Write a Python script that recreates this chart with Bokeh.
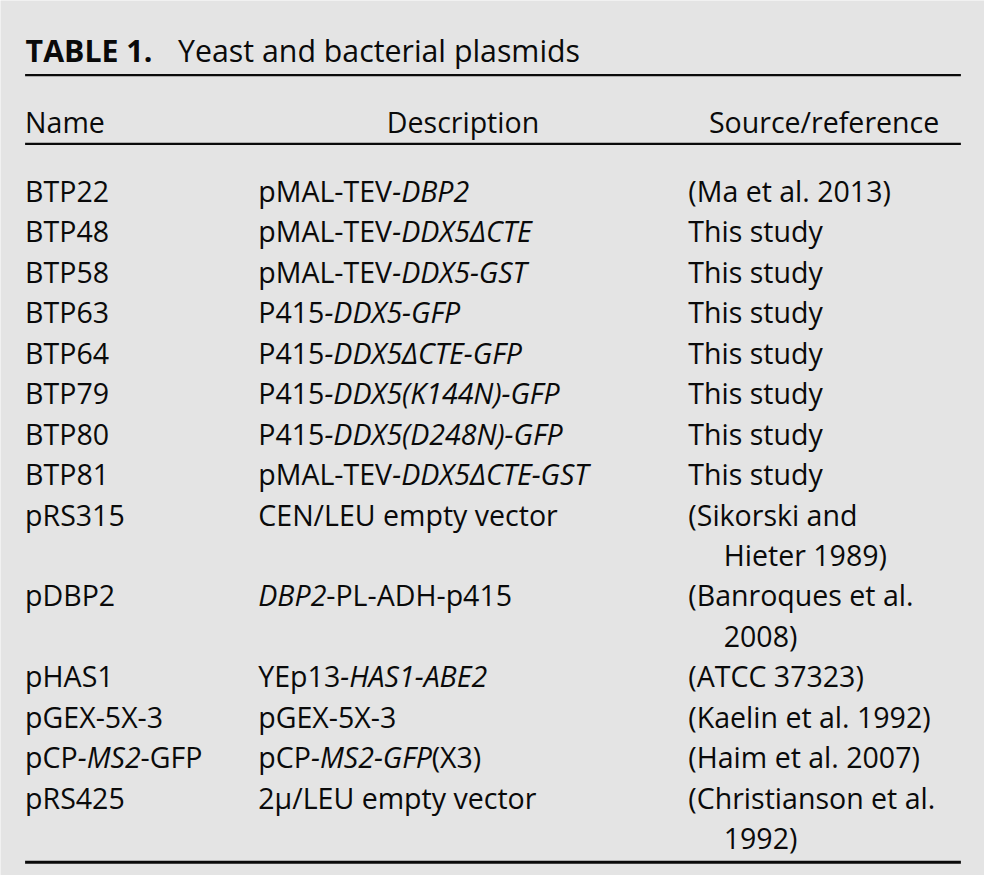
import glob
import os
import struct

from bokeh.embed import file_html
from bokeh.models import ColumnDataSource, Range1d
from bokeh.plotting import figure
from bokeh.resources import INLINE
from bokeh.core.properties import value

# ---------------- data ----------------
title_bold = "TABLE 1."
title_text = "Yeast and bacterial plasmids"
headers = ["Name", "Description", "Source/reference"]

# '*' toggles italic
names = ["BTP22", "BTP48", "BTP58", "BTP63", "BTP64", "BTP79", "BTP80", "BTP81",
         "pRS315", "pDBP2", "pHAS1", "pGEX-5X-3", "pCP*-MS2*-GFP", "pRS425"]
descriptions = ["pMAL-TEV*-DBP2*", "pMAL-TEV*-DDX5ΔCTE*", "pMAL-TEV*-DDX5-GST*",
                "P415*-DDX5-GFP*", "P415*-DDX5ΔCTE-GFP*", "P415*-DDX5(K144N)-GFP*",
                "P415*-DDX5(D248N)-GFP*", "pMAL-TEV*-DDX5ΔCTE-GST*",
                "CEN/LEU empty vector", "*DBP2*-PL-ADH-p415", "YEp13*-HAS1-ABE2*",
                "pGEX-5X-3", "pCP*-MS2-GFP*(X3)", "2μ/LEU empty vector"]
sources = ["(Ma et al. 2013)", "This study", "This study", "This study", "This study",
           "This study", "This study", "This study",
           "(Sikorski and\nHieter 1989)", "(Banroques et al.\n2008)", "(ATCC 37323)",
           "(Kaelin et al. 1992)", "(Haim et al. 2007)", "(Christianson et al.\n1992)"]

# ---------------- layout / style (reference-pixel units) ----------------
FONT = "Open Sans"
FONT_KEY = "opensans"
FS = 29.0
FS_TITLE = 30.8
BG = "#e4e4e4"
INK = "#0a0a0a"
REF_W, REF_H = 1000, 891
W, H = 984, 875
SX = W / REF_W
X_TITLE, X_NAME, X_DESC, X_SRC, X_INDENT = 25.5, 25, 262, 699, 735
C_DESC, C_SRC = 470, 837
RULE_X0, RULE_X1 = 25, 976
Y_TITLE, Y_HEAD, Y_ROW0, PITCH = 51, 123, 193.3, 41.2
Y_RULE1, Y_RULE2, RULE_BELOW_LAST = 76, 146, 25


# ---------------- font metrics (for mixed italic runs) ----------------
def _font_files():
    out = []
    for d in ["/usr/share/fonts", "/usr/local/share/fonts",
              os.path.expanduser("~/.fonts"), os.path.expanduser("~/.local/share/fonts")]:
        out += glob.glob(os.path.join(d, "**", "*.ttf"), recursive=True)
        out += glob.glob(os.path.join(d, "**", "*.otf"), recursive=True)
    return out


def _load_metrics(path, chars):
    with open(path, "rb") as f:
        data = f.read()
    off = struct.unpack(">I", data[12:16])[0] if data[:4] == b"ttcf" else 0
    nt = struct.unpack(">H", data[off + 4:off + 6])[0]
    tables = {}
    for i in range(nt):
        r = off + 12 + 16 * i
        tag = data[r:r + 4].decode("latin1")
        _, to, tl = struct.unpack(">III", data[r + 4:r + 16])
        tables[tag] = to
    upem = struct.unpack(">H", data[tables["head"] + 18:tables["head"] + 20])[0]
    nhm = struct.unpack(">H", data[tables["hhea"] + 34:tables["hhea"] + 36])[0]
    ho = tables["hmtx"]
    adv = [struct.unpack(">H", data[ho + 4 * i:ho + 4 * i + 2])[0] for i in range(nhm)]
    co = tables["cmap"]
    n = struct.unpack(">H", data[co + 2:co + 4])[0]
    best = None
    for i in range(n):
        pid, eid, so = struct.unpack(">HHI", data[co + 4 + 8 * i:co + 12 + 8 * i])
        fmt = struct.unpack(">H", data[co + so:co + so + 2])[0]
        if (pid == 3 and eid in (1, 10)) or pid == 0:
            if fmt == 12:
                best = (co + so, 12)
                break
            if fmt == 4 and best is None:
                best = (co + so, 4)
    cmap = {}
    so, fmt = best
    codes = set(ord(c) for c in chars)
    if fmt == 4:
        segx2 = struct.unpack(">H", data[so + 6:so + 8])[0]
        seg = segx2 // 2
        ends = struct.unpack(">%dH" % seg, data[so + 14:so + 14 + segx2])
        starts = struct.unpack(">%dH" % seg, data[so + 16 + segx2:so + 16 + 2 * segx2])
        deltas = struct.unpack(">%dh" % seg, data[so + 16 + 2 * segx2:so + 16 + 3 * segx2])
        ro = so + 16 + 3 * segx2
        ros = struct.unpack(">%dH" % seg, data[ro:ro + segx2])
        for c in codes:
            for i in range(seg):
                if starts[i] <= c <= ends[i]:
                    if ros[i] == 0:
                        g = (c + deltas[i]) & 0xFFFF
                    else:
                        a = ro + 2 * i + ros[i] + 2 * (c - starts[i])
                        g = struct.unpack(">H", data[a:a + 2])[0]
                        if g:
                            g = (g + deltas[i]) & 0xFFFF
                    cmap[c] = g
                    break
    else:
        ng = struct.unpack(">I", data[so + 12:so + 16])[0]
        for k in range(ng):
            s, e, g0 = struct.unpack(">III", data[so + 16 + 12 * k:so + 28 + 12 * k])
            for c in codes:
                if s <= c <= e:
                    cmap[c] = g0 + c - s
    return upem, cmap, adv


def _pick(files, style):
    cands = []
    for f in files:
        b = os.path.basename(f).lower().replace(" ", "").replace("_", "")
        if not b.startswith(FONT_KEY):
            continue
        rest = b[len(FONT_KEY):]
        if rest.startswith("condensed") or rest.startswith("semicondensed"):
            continue
        ital = "italic" in rest
        var = "[" in rest
        if style == "normal":
            ok = (not ital) and ("-regular" in rest or (var and "wght" in rest))
        elif style == "italic":
            ok = ital and (rest.startswith("-italic") or (var and "wght" in rest))
        else:
            ok = (not ital) and rest.startswith("-bold")
        if ok:
            cands.append(f)
    cands.sort(key=lambda f: ("[" in f, len(f)))
    return cands[0] if cands else None


ALL_CHARS = "".join(names + descriptions + sources + headers + [title_bold, title_text])
_files = _font_files()
METRICS = {}
for style in ("normal", "italic", "bold"):
    path = _pick(_files, style)
    if path:
        try:
            METRICS[style] = _load_metrics(path, ALL_CHARS)
        except Exception:
            pass


def text_width(s, style, size=FS):
    """Advance width of s, in reference-pixel units."""
    m = METRICS.get(style)
    if m is None:
        return 0.56 * size * len(s)
    upem, cmap, adv = m
    w = 0.0
    for ch in s:
        g = cmap.get(ord(ch), 0)
        w += 0.6 * upem if g == 0 else adv[min(g, len(adv) - 1)]
    return w / upem * size


def runs(s):
    parts = s.split("*")
    return [(t, "italic" if i % 2 else "normal") for i, t in enumerate(parts) if t]


# ---------------- build text items ----------------
items = {"normal": dict(x=[], y=[], text=[]),
         "italic": dict(x=[], y=[], text=[])}


def add(x, y, t, style):
    items[style]["x"].append(x)
    items[style]["y"].append(y)
    items[style]["text"].append(t)


def add_runs(x, y, s):
    for t, st in runs(s):
        add(x, y, t, st)
        x += text_width(t, st)


line = 0
for nm, ds, src in zip(names, descriptions, sources):
    y = Y_ROW0 + line * PITCH
    add_runs(X_NAME, y, nm)
    add_runs(X_DESC, y, ds)
    src_lines = src.split("\n")
    for k, sl in enumerate(src_lines):
        add_runs(X_SRC if k == 0 else X_INDENT, y + k * PITCH, sl)
    line += len(src_lines)

# ---------------- figure ----------------
p = figure(width=W, height=H, output_backend="svg", toolbar_location=None,
           x_range=Range1d(0, REF_W), y_range=Range1d(REF_H, 0),
           x_axis_location=None, y_axis_location=None, min_border=0,
           background_fill_color=BG, border_fill_color=BG, outline_line_color=None)
p.grid.visible = False

fs_px = "%.2fpx" % (FS * SX)
fst_px = "%.2fpx" % (FS_TITLE * SX)

# title: bold label + regular caption
title_x2 = X_TITLE + text_width(title_bold, "bold", FS_TITLE) + 0.85 * FS_TITLE
title_src = ColumnDataSource(dict(x=[X_TITLE, title_x2], y=[Y_TITLE] * 2,
                                  text=[title_bold, title_text],
                                  style=["bold", "normal"]))
p.text(x="x", y="y", text="text", source=title_src, text_font=value(FONT),
       text_font_size=fst_px, text_font_style="style", text_color=INK,
       text_align="left", text_baseline="alphabetic")

for style, d in items.items():
    p.text(x="x", y="y", text="text", source=ColumnDataSource(d),
           text_font=value(FONT), text_font_size=fs_px,
           text_font_style=style, text_color=INK,
           text_align="left", text_baseline="alphabetic")

# header row (Name left, others centered over their columns)
hdr = ColumnDataSource(dict(x=[X_NAME, C_DESC, C_SRC], y=[Y_HEAD] * 3, text=headers,
                            align=["left", "center", "center"]))
p.text(x="x", y="y", text="text", source=hdr, text_font=value(FONT),
       text_font_size=fs_px, text_color=INK, text_align="align",
       text_baseline="alphabetic")

# rules
y_bottom = Y_ROW0 + (line - 1) * PITCH + RULE_BELOW_LAST
rules = ColumnDataSource(dict(x0=[RULE_X0] * 3, x1=[RULE_X1] * 3,
                              y=[Y_RULE1, Y_RULE2, y_bottom],
                              w=[2.5 * SX, 2.5 * SX, 3.0 * SX]))
p.segment(x0="x0", y0="y", x1="x1", y1="y", source=rules, line_color=INK,
          line_width="w")

open("out.html", "w").write(file_html(p, INLINE))
